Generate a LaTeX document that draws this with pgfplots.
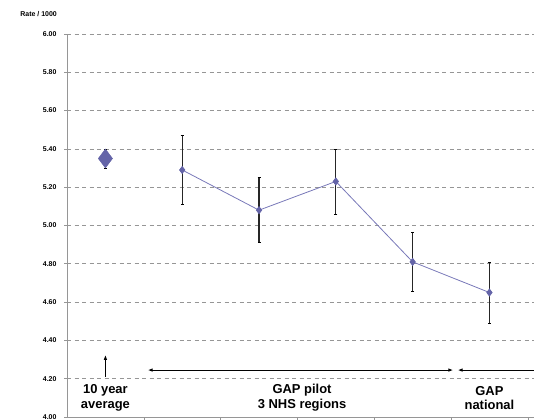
\documentclass[border=0pt]{standalone}
\usepackage{pgfplots}
\pgfplotsset{compat=1.18}
\usepackage{fontspec}
\setmainfont{Liberation Sans}
\usetikzlibrary{arrows.meta}
\definecolor{serie}{RGB}{120,120,184}
\definecolor{markc}{RGB}{100,100,168}
\definecolor{gridc}{RGB}{150,150,150}

\pgfplotstableread{
x  y     e
1  5.35  0.05
}\avgdata
\pgfplotstableread{
x  y     e
2  5.29  0.18
3  5.08  0.17
4  5.23  0.17
5  4.81  0.155
6  4.65  0.16
}\yeardata

\begin{document}
\begin{tikzpicture}
\begin{axis}[
  at={(0,0)}, anchor=south west,
  scale only axis,
  width=467bp, height=383bp,
  xmin=0.5, xmax=6.58,
  ymin=4, ymax=6,
  axis x line*=bottom,
  axis y line*=left,
  axis line style={draw=gridc, line width=0.8pt},
  xtick={1.5,2.5,3.5,4.5,5.5,6.5},
  xticklabels={},
  ytick={4,4.2,...,6.01},
  yticklabel style={font=\fontsize{7}{8}\selectfont\bfseries, xshift=-4bp},
  /pgf/number format/assume math mode=true,
  /pgf/number format/.cd, fixed, fixed zerofill, precision=2, /pgfplots/.cd,
  tick style={draw=gridc, line width=0.6pt},
  tick align=outside,
  major tick length=3bp,
  ymajorgrids,
  grid style={draw=gridc, dash pattern=on 4bp off 3.5bp, line width=0.6pt},
  clip=false,
]
\addplot[only marks, mark=diamond*, mark size=9.5bp,
  mark options={fill=markc, draw=markc},
  error bars/.cd, y dir=both, y explicit,
  error bar style={black!85, line width=1.1pt},
  error mark options={black, line width=0.7pt, mark size=1.5bp, rotate=90}]
  table[x=x, y=y, y error=e] {\avgdata};
\addplot[serie, line width=0.8pt, mark=diamond*, mark size=3.5bp,
  mark options={fill=markc, draw=markc},
  error bars/.cd, y dir=both, y explicit,
  error bar style={black!85, line width=1.3pt},
  error mark options={black, line width=0.7pt, mark size=1.5bp, rotate=90}]
  table[x=x, y=y, y error=e] {\yeardata};
\draw[-{Latex[length=5bp,width=3.5bp]}, line width=1pt] (axis cs:1,4.21) -- (axis cs:1,4.325);
\draw[{Latex[length=5bp,width=3.5bp]}-{Latex[length=5bp,width=3.5bp]}, line width=1pt]
  (axis cs:1.55,4.245) -- (axis cs:5.53,4.245);
\draw[{Latex[length=5bp,width=3.5bp]}-, line width=1pt]
  (axis cs:5.585,4.245) -- (axis cs:6.6,4.245);
\begin{scope}[every node/.style={font=\fontsize{13}{14.5}\selectfont\bfseries, align=center}]
\node at (axis cs:1,4.1) {10 year\\average};
\node at (axis cs:3.56,4.1) {GAP pilot\\3 NHS regions};
\node at (axis cs:6,4.1) {GAP\\national};
\end{scope}
\node[anchor=east, font=\fontsize{7}{8}\selectfont\bfseries, inner sep=0pt] at (-10bp,403bp) {Rate / 1000};
\end{axis}
\pgfresetboundingbox
\useasboundingbox (-67bp,-3bp) rectangle (467bp,417bp);
\end{tikzpicture}
\end{document}
